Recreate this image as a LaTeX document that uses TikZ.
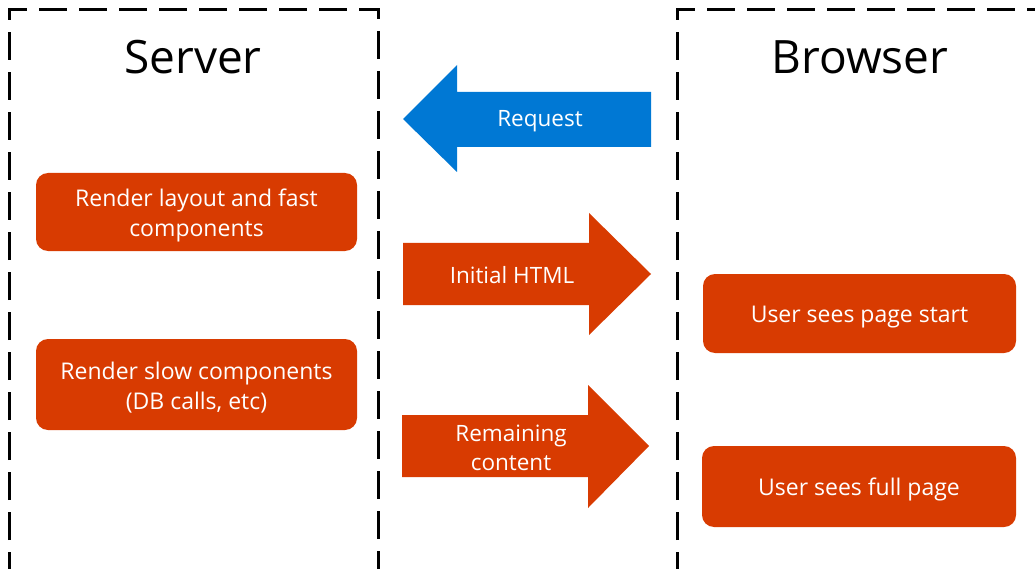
\documentclass[tikz,border=0pt]{standalone}
\usepackage{fontspec}
\setmainfont{Open Sans}
\definecolor{msorange}{HTML}{D83B01}
\definecolor{msblue}{HTML}{0078D4}
\begin{document}
\begin{tikzpicture}[x=1pt,y=-1pt,
  zone/.style={line width=3pt, dash pattern=on 28pt off 12pt},
  taskbox/.style={fill=msorange, rounded corners=12pt},
  tasktext/.style={text=white, align=center,
    font=\fontsize{23}{30}\selectfont, inner sep=0pt},
  title/.style={font=\fontsize{46}{50}\selectfont},
  arrowtext/.style={text=white, align=center, font=\fontsize{22.5}{29}\selectfont}]
\useasboundingbox (0,0) rectangle (1035,569);
\clip (0,0) rectangle (1035,569);
% dashed zones
\draw[zone] (9,580) -- (9,10) -- (378,10) -- (378,580);
\draw[zone] (677,580) -- (677,10) -- (1060,10);
\node[title] (server) at (193,57) {Server};
\node[title] (browser) at (860,57) {Browser};
% server tasks
\fill[taskbox] (36,173) rectangle (357,251);
\node[tasktext] (layout) at (196.5,215) {Render layout and fast\\components};
\fill[taskbox] (36,339) rectangle (357,430);
\node[tasktext] (slow) at (196.5,387.5) {Render slow components\\(DB calls, etc)};
% browser tasks
\fill[taskbox] (703,274) rectangle (1016,353);
\node[tasktext] (start) at (859.5,317) {User sees page start};
\fill[taskbox] (702,446) rectangle (1016,527);
\node[tasktext] (full) at (859,489.5) {User sees full page};
% arrows
\fill[msblue] (403,119) -- (457,65) -- (457,92) -- (651,92) -- (651,147)
  -- (457,147) -- (457,172) -- cycle;
\node[arrowtext] (req) at (540,121) {Request};
\fill[msorange] (403,243) -- (589,243) -- (589,213) -- (651,274) -- (589,335)
  -- (589,305) -- (403,305) -- cycle;
\node[arrowtext] (html) at (512,275) {Initial HTML};
\fill[msorange] (402,415) -- (588,415) -- (588,385) -- (649,446) -- (588,508)
  -- (588,477) -- (402,477) -- cycle;
\node[arrowtext] (rest) at (511,448) {Remaining\\content};
\end{tikzpicture}
\end{document}
